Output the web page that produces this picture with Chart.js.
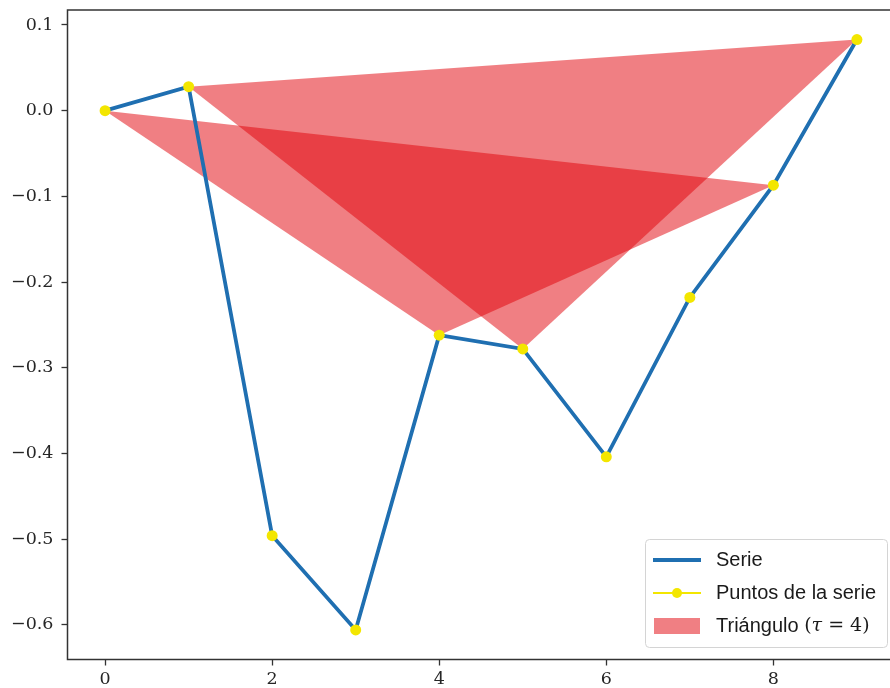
<!DOCTYPE html>
<html>
<head>
<meta charset="utf-8">
<script src="https://cdn.jsdelivr.net/npm/chart.js@4.4.0/dist/chart.umd.min.js"></script>
<style>
  html, body { margin: 0; padding: 0; background: #fff; overflow: hidden; width: 890px; height: 688px; }
  #wrap { width: 900px; height: 688px; }
</style>
</head>
<body>
<div id="wrap"><canvas id="c" width="900" height="688"></canvas></div>
<script>
// Time series and the triangles joining points tau steps apart
const xValues = [0, 1, 2, 3, 4, 5, 6, 7, 8, 9];
const serie = [0.000, 0.028, -0.496, -0.606, -0.262, -0.278, -0.404, -0.218, -0.087, 0.083];
const tau = 4;
const xTicks = [0, 2, 4, 6, 8];
const yTicks = [0.1, 0.0, -0.1, -0.2, -0.3, -0.4, -0.5, -0.6];
const legendLabels = ['Serie', 'Puntos de la serie', 'Triángulo'];

const BLUE = '#1f6fb1';
const YELLOW = '#f3e600';
const TRI_FILL = 'rgba(226, 0, 8, 0.5)';
const TICK_COLOR = '#262626';

const seriesPoints = xValues.map((x, i) => ({ x: x, y: serie[i] }));

// one triangle per starting index: s, s + tau, s + 2*tau
const triangles = [];
for (let s = 0; s + 2 * tau < xValues.length; s++) {
  triangles.push([s, s + tau, s + 2 * tau].map(i => seriesPoints[i]));
}

const datasets = [
  {
    label: legendLabels[1],
    data: seriesPoints,
    showLine: false,
    pointRadius: 5.5,
    pointBackgroundColor: YELLOW,
    pointBorderWidth: 0,
    order: 0
  },
  {
    label: legendLabels[0],
    data: seriesPoints,
    borderColor: BLUE,
    borderWidth: 3.8,
    pointRadius: 0,
    tension: 0,
    fill: false,
    order: 1
  }
];
triangles.forEach((tri, k) => {
  datasets.push({
    label: legendLabels[2],
    data: tri,
    borderWidth: 0,
    borderColor: 'rgba(0,0,0,0)',
    backgroundColor: TRI_FILL,
    pointRadius: 0,
    fill: 'shape',
    order: 2 + k
  });
});

const fmt = v => {
  const s = Math.abs(v) < 1e-9 ? '0.0' : v.toFixed(1);
  return s.replace('-', '\u2212');
};

// Axes frame drawn over the data (left, top, bottom; right edge lies past the page)
const framePlugin = {
  id: 'frame',
  afterDatasetsDraw(chart) {
    const { ctx, chartArea: a } = chart;
    ctx.save();
    ctx.strokeStyle = '#333';
    ctx.lineWidth = 1.5;
    ctx.strokeRect(a.left, a.top, a.right - a.left, a.bottom - a.top);
    ctx.restore();
  }
};

// Framed legend in the lower right corner
const legendPlugin = {
  id: 'boxLegend',
  afterDraw(chart) {
    const ctx = chart.ctx;
    const bx = 645.5, by = 539.5, bw = 242, bh = 108;
    ctx.save();
    ctx.beginPath();
    ctx.roundRect(bx, by, bw, bh, 4);
    ctx.fillStyle = 'rgba(255,255,255,0.85)';
    ctx.fill();
    ctx.strokeStyle = '#d4d4d4';
    ctx.lineWidth = 1;
    ctx.stroke();

    const hx0 = 653, hx1 = 701, tx = 716;
    const rows = [560, 593, 626];
    const sans = '20px "Liberation Sans", Arial, sans-serif';
    const serif = '19px "DejaVu Serif", serif';
    const serifIt = 'italic 19px "DejaVu Serif", serif';
    ctx.textBaseline = 'middle';
    ctx.fillStyle = '#1a1a1a';

    // Serie
    ctx.strokeStyle = BLUE;
    ctx.lineWidth = 3.8;
    ctx.beginPath(); ctx.moveTo(hx0, rows[0]); ctx.lineTo(hx1, rows[0]); ctx.stroke();
    ctx.font = sans;
    ctx.fillText(legendLabels[0], tx, rows[0]);

    // Puntos de la serie
    ctx.strokeStyle = YELLOW;
    ctx.lineWidth = 2;
    ctx.beginPath(); ctx.moveTo(hx0, rows[1]); ctx.lineTo(hx1, rows[1]); ctx.stroke();
    ctx.fillStyle = YELLOW;
    ctx.beginPath(); ctx.arc((hx0 + hx1) / 2, rows[1], 5, 0, Math.PI * 2); ctx.fill();
    ctx.fillStyle = '#1a1a1a';
    ctx.fillText(legendLabels[1], tx, rows[1]);

    // Triángulo (τ = 4)
    ctx.fillStyle = TRI_FILL;
    ctx.fillRect(hx0 + 1, rows[2] - 8, hx1 - hx0 - 2, 16);
    ctx.fillStyle = '#1a1a1a';
    let x = tx;
    const parts = [
      [legendLabels[2] + ' ', sans],
      ['(', serif],
      ['\u03C4', serifIt],
      [' = ' + tau + ')', serif]
    ];
    parts.forEach(([t, f]) => {
      ctx.font = f;
      ctx.fillText(t, x, rows[2]);
      x += ctx.measureText(t).width;
    });
    ctx.restore();
  }
};

new Chart(document.getElementById('c'), {
  type: 'line',
  data: { datasets: datasets },
  options: {
    responsive: false,
    animation: false,
    events: [],
    layout: { padding: { top: 10, right: 1, left: 0, bottom: 0 } },
    plugins: { legend: { display: false }, tooltip: { enabled: false } },
    scales: {
      x: {
        type: 'linear',
        min: -0.45,
        max: 9.45,
        afterBuildTicks: s => { s.ticks = xTicks.map(v => ({ value: v })); },
        afterFit: s => { s.height = 28.5; s.paddingLeft = 0; s.paddingRight = 0; },
        grid: { drawOnChartArea: false, drawTicks: true, tickLength: 6, tickColor: '#333', tickWidth: 1.3 },
        border: { display: false },
        ticks: {
          padding: 3,
          maxRotation: 0,
          autoSkip: false,
          color: TICK_COLOR,
          font: { family: '"DejaVu Serif", serif', size: 17.5 },
          callback: v => String(v)
        }
      },
      y: {
        type: 'linear',
        min: -0.6405,
        max: 0.1175,
        afterBuildTicks: s => { s.ticks = yTicks.map(v => ({ value: v })); },
        afterFit: s => { s.width = 67.5; s.paddingTop = 0; s.paddingBottom = 0; },
        grid: { drawOnChartArea: false, drawTicks: true, tickLength: 6, tickColor: '#333', tickWidth: 1.3 },
        border: { display: false },
        ticks: {
          padding: 8,
          autoSkip: false,
          color: TICK_COLOR,
          font: { family: '"DejaVu Serif", serif', size: 17.5 },
          callback: v => fmt(v)
        }
      }
    }
  },
  plugins: [framePlugin, legendPlugin]
});
</script>
</body>
</html>
